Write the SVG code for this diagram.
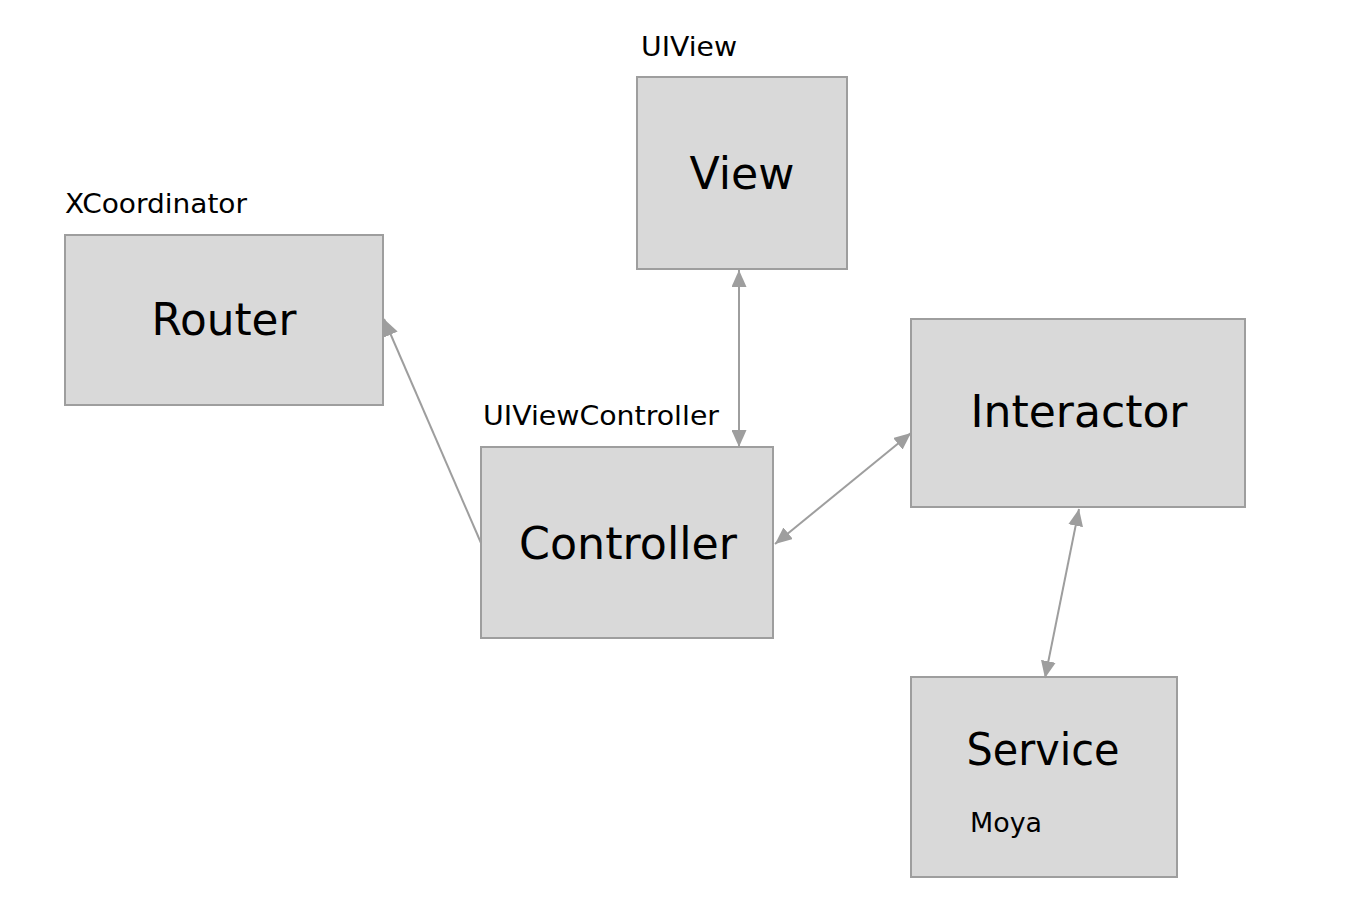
<svg xmlns="http://www.w3.org/2000/svg" width="1352" height="920" viewBox="0 0 1352 920">
<style>
.box{fill:#d9d9d9;stroke:#9e9e9e;stroke-width:2}
.big{font-family:"DejaVu Sans","Open Sans",sans-serif;font-size:44px;fill:#000;text-anchor:middle}
.small{font-family:"DejaVu Sans","Open Sans",sans-serif;font-size:27px;fill:#000}
.conn{stroke:#9e9e9e;stroke-width:2;fill:none}
</style>
<defs>
<marker id="a" viewBox="0 0 17 15" refX="17" refY="7.5" markerWidth="17" markerHeight="15" markerUnits="userSpaceOnUse" orient="auto-start-reverse">
<path d="M0,0 L17,7.5 L0,15 z" fill="#9e9e9e"/>
</marker>
</defs>
<rect width="1352" height="920" fill="#fff"/>
<g id="router">
<text class="small" x="65" y="213" textLength="182" lengthAdjust="spacingAndGlyphs">XCoordinator</text>
<rect class="box" x="65" y="235" width="318" height="170"/>
<text class="big" x="224" y="335" textLength="145" lengthAdjust="spacingAndGlyphs">Router</text>
</g>
<g id="view">
<text class="small" x="641" y="56" textLength="96" lengthAdjust="spacingAndGlyphs">UIView</text>
<rect class="box" x="637" y="77" width="210" height="192"/>
<text class="big" x="742" y="189" textLength="105" lengthAdjust="spacingAndGlyphs">View</text>
</g>
<g id="controller">
<text class="small" x="483" y="425" textLength="236" lengthAdjust="spacingAndGlyphs">UIViewController</text>
<rect class="box" x="481" y="447" width="292" height="191"/>
<text class="big" x="628" y="559" textLength="218" lengthAdjust="spacingAndGlyphs">Controller</text>
</g>
<g id="interactor">
<rect class="box" x="911" y="319" width="334" height="188"/>
<text class="big" x="1079" y="427" textLength="217" lengthAdjust="spacingAndGlyphs">Interactor</text>
</g>
<g id="service">
<rect class="box" x="911" y="677" width="266" height="200"/>
<text class="big" x="1043" y="765" textLength="153" lengthAdjust="spacingAndGlyphs">Service</text>
<text class="small" x="970" y="832" textLength="72" lengthAdjust="spacingAndGlyphs">Moya</text>
</g>
<g id="connectors">
<line class="conn" x1="481" y1="543" x2="384" y2="319" marker-end="url(#a)"/>
<line class="conn" x1="739" y1="270" x2="739" y2="447" marker-start="url(#a)" marker-end="url(#a)"/>
<line class="conn" x1="775" y1="544" x2="911" y2="433" marker-start="url(#a)" marker-end="url(#a)"/>
<line class="conn" x1="1079" y1="509" x2="1045" y2="678" marker-start="url(#a)" marker-end="url(#a)"/>
</g>
</svg>
